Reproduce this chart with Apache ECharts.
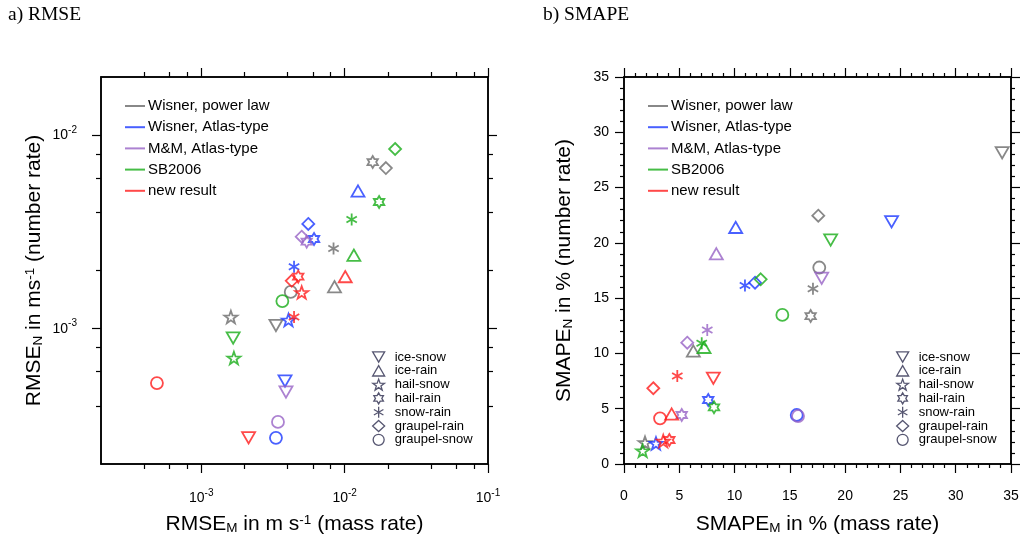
<!DOCTYPE html>
<html>
<head>
<meta charset="utf-8">
<script src="https://cdn.jsdelivr.net/npm/echarts@6/dist/echarts.min.js"></script>
<style>html,body{margin:0;padding:0;background:#fff}#c{width:1022px;height:545px}</style>
</head>
<body>
<div id="c"></div>
<script>
// ---- data ----
const types = ['ice-snow', 'ice-rain', 'hail-snow', 'hail-rain', 'snow-rain', 'graupel-rain', 'graupel-snow'];
const schemes = ['Wisner, power law', 'Wisner, Atlas-type', 'M&M, Atlas-type', 'SB2006', 'new result'];

// a) RMSE (m s^-1), order follows `types`
const rmseM_wisnerPower = [3.32e-3, 8.50e-3, 1.61e-3, 1.57e-2, 8.37e-3, 1.94e-2, 4.21e-3];
const rmseN_wisnerPower = [1.04e-3, 1.65e-3, 1.15e-3, 7.27e-3, 2.60e-3, 6.77e-3, 1.55e-3];
const rmseM_wisnerAtlas = [3.84e-3, 1.24e-2, 4.06e-3, 6.12e-3, 4.44e-3, 5.58e-3, 3.32e-3];
const rmseN_wisnerAtlas = [5.37e-4, 5.15e-3, 1.11e-3, 2.91e-3, 2.09e-3, 3.48e-3, 2.73e-4];
const rmseM_mm = [3.90e-3, null, null, 5.44e-3, null, 5.02e-3, 3.43e-3];
const rmseN_mm = [4.71e-4, null, null, 2.82e-3, null, 2.99e-3, 3.30e-4];
const rmseM_sb2006 = [1.67e-3, 1.16e-2, 1.69e-3, 1.74e-2, 1.12e-2, 2.25e-2, 3.68e-3];
const rmseN_sb2006 = [8.96e-4, 2.40e-3, 7.06e-4, 4.52e-3, 3.67e-3, 8.49e-3, 1.39e-3];
const rmseM_new = [2.14e-3, 1.01e-2, 5.02e-3, 4.75e-3, 4.44e-3, 4.28e-3, 4.91e-4];
const rmseN_new = [2.73e-4, 1.86e-3, 1.54e-3, 1.86e-3, 1.15e-3, 1.77e-3, 5.24e-4];

// b) SMAPE (%)
const smapeM_wisnerPower = [34.2, 6.27, 1.90, 16.88, 17.09, 17.57, 17.66];
const smapeN_wisnerPower = [28.15, 10.22, 1.93, 13.38, 15.85, 22.46, 17.77];
const smapeM_wisnerAtlas = [24.2, 10.1, 2.89, 7.62, 10.94, 11.85, 15.62];
const smapeN_wisnerAtlas = [21.9, 21.4, 1.87, 5.79, 16.14, 16.40, 4.43];
const smapeM_mm = [17.88, 8.35, null, 5.22, 7.53, 5.72, 15.74];
const smapeN_mm = [16.79, 19.01, null, 4.43, 12.12, 10.97, 4.34];
const smapeM_sb2006 = [18.69, 7.24, 1.69, 8.14, 7.03, 12.36, 14.32];
const smapeN_sb2006 = [20.26, 10.55, 1.20, 5.13, 10.92, 16.70, 13.48];
const smapeM_new = [8.08, 4.31, 3.55, 4.10, 4.82, 2.65, 3.26];
const smapeN_new = [7.75, 4.52, 2.08, 2.17, 7.96, 6.85, 4.13];

// tick values
const logMajorX = [1e-3, 1e-2, 1e-1];
const logMinorX = [4e-4, 6e-4, 8e-4, 2e-3, 4e-3, 6e-3, 8e-3, 2e-2, 4e-2, 6e-2, 8e-2];
const logMajorY = [1e-3, 1e-2];
const logMinorY = [4e-4, 6e-4, 8e-4, 2e-3, 4e-3, 6e-3, 8e-3];

// ---- styles ----
const colors = ['#6a6a6a', '#1c38ff', '#9763c6', '#18ac18', '#ff1c1c'];
const legendInk = '#2c2c4e';
const FONT = 'Liberation Sans';
const SYM = {
  'ice-snow': 'path://M0,0L10,0L5,8.66Z',
  'ice-rain': 'path://M5,0L10,8.66L0,8.66Z',
  'hail-snow': 'path://M5,0L6.18,3.38L9.76,3.45L6.9,5.62L7.94,9.05L5,7L2.06,9.05L3.1,5.62L0.24,3.45L3.82,3.38Z',
  'hail-rain': 'path://M5,0L6.44,2.5L9.33,2.5L7.89,5L9.33,7.5L6.44,7.5L5,10L3.56,7.5L0.67,7.5L2.11,5L0.67,2.5L3.56,2.5Z',
  'snow-rain': 'path://M5,0L5,10M0.67,2.5L9.33,7.5M0.67,7.5L9.33,2.5M5,0L5,0.01',
  'graupel-rain': 'diamond',
  'graupel-snow': 'circle'
};
const SIZE = {'ice-snow': 13, 'ice-rain': 13, 'hail-snow': 13, 'hail-rain': 12, 'snow-rain': 12, 'graupel-rain': 12, 'graupel-snow': 12};

const rmseM = [rmseM_wisnerPower, rmseM_wisnerAtlas, rmseM_mm, rmseM_sb2006, rmseM_new];
const rmseN = [rmseN_wisnerPower, rmseN_wisnerAtlas, rmseN_mm, rmseN_sb2006, rmseN_new];
const smapeM = [smapeM_wisnerPower, smapeM_wisnerAtlas, smapeM_mm, smapeM_sb2006, smapeM_new];
const smapeN = [smapeN_wisnerPower, smapeN_wisnerAtlas, smapeN_mm, smapeN_sb2006, smapeN_new];

function items(xs, ys) {
  const out = [];
  types.forEach((t, i) => {
    if (xs[i] == null || ys[i] == null) return;
    out.push({value: [xs[i], ys[i]], symbol: SYM[t], symbolSize: SIZE[t]});
  });
  return out;
}

const supRich = {
  b: {fontSize: 14, fontFamily: FONT, color: '#000', lineHeight: 20},
  s: {fontSize: 10, fontFamily: FONT, color: '#000', verticalAlign: 'top', lineHeight: 12}
};
function powLabel(v) {
  const e = Math.round(Math.log10(v));
  return '{b|10}{s|' + e + '}';
}
const nameRich = {
  a: {fontSize: 21, fontFamily: FONT, color: '#000', lineHeight: 28},
  sub: {fontSize: 13.5, fontFamily: FONT, color: '#000', verticalAlign: 'bottom', lineHeight: 13, padding: [0, 0, 3, 0]},
  sup: {fontSize: 13.5, fontFamily: FONT, color: '#000', verticalAlign: 'top', lineHeight: 13, padding: [3, 0, 0, 0]}
};
const AX = {onZero: false, lineStyle: {color: '#000', width: 1.5}};
const TICK = {color: '#000', width: 1.2};

function logAxis(pos, isX, major, withLabel, name, nameGap) {
  const base = {
    type: 'log', gridIndex: 0, position: pos, logBase: 10,
    min: 2e-4, max: isX ? 1e-1 : 2e-2,
    splitLine: {show: false}, minorTick: {show: false}, minorSplitLine: {show: false}
  };
  if (major) {
    const ax = Object.assign(base, {
      axisLine: Object.assign({show: true}, AX),
      axisTick: {show: true, inside: false, length: 9, customValues: isX ? logMajorX : logMajorY, lineStyle: TICK},
      axisLabel: withLabel ? {show: true, customValues: isX ? logMajorX : logMajorY, formatter: powLabel, rich: supRich, margin: 24} : {show: false}
    });
    if (name) Object.assign(ax, {name: name, nameLocation: 'middle', nameGap: nameGap, nameTextStyle: {rich: nameRich}});
    return ax;
  }
  return Object.assign(base, {
    axisLine: {show: false, onZero: false},
    axisTick: {show: true, inside: false, length: 5, customValues: isX ? logMinorX : logMinorY, lineStyle: TICK},
    axisLabel: {show: false}
  });
}
function valAxis(pos, withLabel, name, nameGap) {
  const ax = {
    type: 'value', gridIndex: 1, position: pos, min: 0, max: 35, interval: 5,
    splitLine: {show: false},
    axisLine: Object.assign({show: true}, AX),
    axisTick: {show: true, inside: false, length: 9, lineStyle: TICK},
    minorTick: {show: true, splitNumber: 5, length: 4, lineStyle: TICK},
    axisLabel: withLabel ? {show: true, fontSize: 14, fontFamily: FONT, color: '#000', margin: (pos === 'bottom' ? 25 : 15)} : {show: false}
  };
  if (name) Object.assign(ax, {name: name, nameLocation: 'middle', nameGap: nameGap, nameTextStyle: {rich: nameRich}});
  return ax;
}

const xAxes = [
  logAxis('bottom', true, true, true, '{a|RMSE}{sub|M}{a| in m s}{sup|-1}{a| (mass rate)}', 46),
  logAxis('top', true, true, false),
  logAxis('bottom', true, false, false),
  logAxis('top', true, false, false),
  valAxis('bottom', true, '{a|SMAPE}{sub|M}{a| in % (mass rate)}', 46),
  valAxis('top', false)
];
const yAxes = [
  logAxis('left', false, true, true, '{a|RMSE}{sub|N}{a| in ms}{sup|-1}{a| (number rate)}', 52),
  logAxis('right', false, true, false),
  logAxis('left', false, false, false),
  logAxis('right', false, false, false),
  valAxis('left', true, '{a|SMAPE}{sub|N}{a| in % (number rate)}', 46),
  valAxis('right', false)
];

const series = [];
schemes.forEach((s, k) => {
  const st = {color: 'rgba(0,0,0,0)', borderColor: colors[k], borderWidth: 1.8};
  series.push({type: 'scatter', name: s, xAxisIndex: 0, yAxisIndex: 0, symbolKeepAspect: true,
    itemStyle: st, emphasis: {disabled: true}, data: items(rmseM[k], rmseN[k])});
  series.push({type: 'scatter', name: s, xAxisIndex: 4, yAxisIndex: 4, symbolKeepAspect: true,
    itemStyle: st, emphasis: {disabled: true}, data: items(smapeM[k], smapeN[k])});
});
types.forEach(t => {
  series.push({type: 'scatter', name: t, xAxisIndex: 0, yAxisIndex: 0, symbol: SYM[t], symbolKeepAspect: true,
    itemStyle: {color: 'rgba(0,0,0,0)', borderColor: legendInk, borderWidth: 1.3}, data: []});
});

function colorLegend(left) {
  return {
    orient: 'vertical', left: left, top: 98, itemWidth: 20, itemHeight: 2, itemGap: 5.2, padding: 0,
    selectedMode: false, symbolKeepAspect: false,
    textStyle: {fontFamily: FONT, fontSize: 15, color: '#000', lineHeight: 16, padding: [0, 0, 0, -2]},
    data: schemes.map((s, k) => ({name: s, icon: 'rect', itemStyle: {color: colors[k], borderWidth: 0}}))
  };
}
function shapeLegend(left) {
  return {
    orient: 'vertical', left: left, top: 350.5, itemWidth: 12, itemHeight: 11, itemGap: 0.8, padding: 0,
    selectedMode: false, symbolKeepAspect: true,
    textStyle: {fontFamily: FONT, fontSize: 13, color: '#000', lineHeight: 11, padding: [0, 0, 0, 5]},
    data: types.map(t => ({name: t, icon: SYM[t],
      itemStyle: {color: 'rgba(0,0,0,0)', borderColor: legendInk, borderWidth: 1.3}}))
  };
}

const option = {
  animation: false,
  backgroundColor: '#fff',
  title: [
    {text: 'a) RMSE', left: 3, top: 0, textStyle: {fontFamily: 'Liberation Serif', fontSize: 19.5, fontWeight: 'normal', color: '#000'}},
    {text: 'b) SMAPE', left: 538, top: 0, textStyle: {fontFamily: 'Liberation Serif', fontSize: 19.5, fontWeight: 'normal', color: '#000'}}
  ],
  grid: [
    {left: 101, top: 77, width: 387, height: 387, show: true, borderColor: '#000', borderWidth: 1.5},
    {left: 624, top: 77, width: 387, height: 387, show: true, borderColor: '#000', borderWidth: 1.5}
  ],
  xAxis: xAxes,
  yAxis: yAxes,
  legend: [colorLegend(125), colorLegend(648), shapeLegend(372), shapeLegend(896)],
  series: series
};

const chart = echarts.init(document.getElementById('c'), null, {renderer: 'canvas'});
chart.setOption(option);
</script>
</body>
</html>
